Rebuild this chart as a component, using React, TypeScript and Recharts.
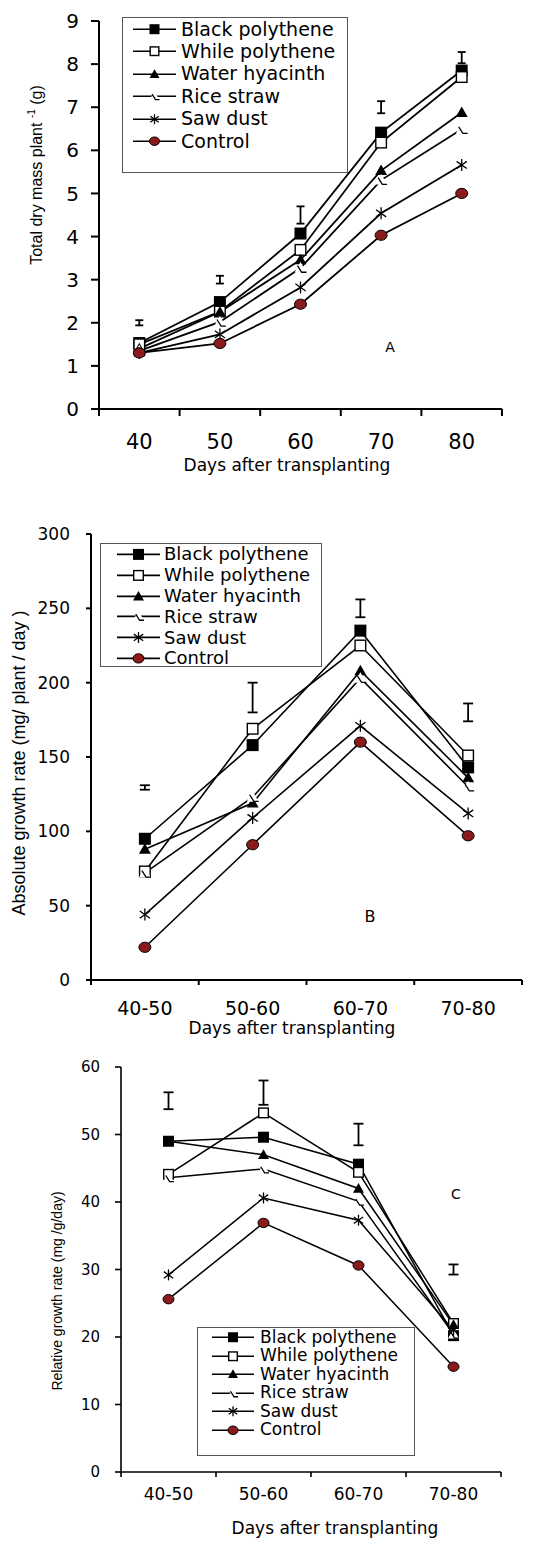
import React from "react";
import { LineChart, Line, XAxis, YAxis, ErrorBar, Legend } from "recharts";

// Series shared by all three panels
const SERIES_NAMES = [
  "Black polythene",
  "While polythene",
  "Water hyacinth",
  "Rice straw",
  "Saw dust",
  "Control",
];
const SERIES_MARKERS = ["filledSquare", "openSquare", "filledTriangle", "riceStraw", "star", "circle"];

// Panel A: total dry mass plant-1 (g)
const daysA = ["40", "50", "60", "70", "80"];
const blackA = [1.53, 2.48, 4.07, 6.41, 7.85];
const whiteA = [1.5, 2.26, 3.69, 6.18, 7.7];
const hyacinthA = [1.4, 2.25, 3.46, 5.53, 6.88];
const strawA = [1.35, 2.02, 3.27, 5.31, 6.49];
const sawA = [1.3, 1.73, 2.82, 4.54, 5.66];
const controlA = [1.3, 1.52, 2.43, 4.03, 5.0];
const lsdMidA = [2.0, 3.0, 4.5, 7.0, 8.15];
const lsdHalfA = [0.06, 0.09, 0.2, 0.14, 0.13];
const yTicksA = [0, 1, 2, 3, 4, 5, 6, 7, 8, 9];

// Panel B: absolute growth rate (mg/plant/day)
const periodsB = ["40-50", "50-60", "60-70", "70-80"];
const blackB = [95, 158, 235, 143];
const whiteB = [73, 169, 225, 151];
const hyacinthB = [88, 119, 208, 136];
const strawB = [72, 123, 203, 130];
const sawB = [44, 109, 171, 112];
const controlB = [22, 91, 160, 97];
const lsdMidB = [129.5, 190, 250, 180];
const lsdHalfB = [1.5, 10, 6, 6];
const yTicksB = [0, 50, 100, 150, 200, 250, 300];

// Panel C: relative growth rate (mg/g/day)
const periodsC = ["40-50", "50-60", "60-70", "70-80"];
const blackC = [49.0, 49.6, 45.6, 20.2];
const whiteC = [44.1, 53.2, 44.4, 22.0];
const hyacinthC = [49.0, 47.0, 42.0, 21.8];
const strawC = [43.6, 44.9, 40.1, 20.4];
const sawC = [29.2, 40.6, 37.3, 21.0];
const controlC = [25.6, 36.9, 30.6, 15.6];
const lsdMidC = [55, 56.2, 50, 30];
const lsdHalfC = [1.25, 1.8, 1.6, 0.75];
const yTicksC = [0, 10, 20, 30, 40, 50, 60];

const TEXT_FONT = "'DejaVu Sans', sans-serif";
const TITLE_FONT = "'Liberation Sans', Arial, sans-serif";
const CONTROL_RED = "#8b1a1a";

function buildRows(cats: string[], series: number[][], lsdMid: number[], lsdHalf: number[]) {
  return cats.map((c, i) => {
    const row: Record<string, number | string> = { pos: i + 0.5, label: c, lsd: lsdMid[i], lsdErr: lsdHalf[i] };
    series.forEach((s, k) => {
      row[`s${k}`] = s[i];
    });
    return row;
  });
}

function Marker({ kind, cx, cy, s }: { kind: string; cx: number; cy: number; s: number }) {
  const h = s / 2;
  switch (kind) {
    case "filledSquare":
      return <rect x={cx - h} y={cy - h} width={s} height={s} fill="#000" />;
    case "openSquare":
      return (
        <rect x={cx - h + 0.7} y={cy - h + 0.7} width={s - 1.4} height={s - 1.4} fill="#fff" stroke="#000" strokeWidth={1.4} />
      );
    case "filledTriangle":
      return <path d={`M${cx},${cy - h} L${cx + h},${cy + h * 0.75} L${cx - h},${cy + h * 0.75} Z`} fill="#000" />;
    case "riceStraw":
      return (
        <g>
          <path d={`M${cx},${cy - h} L${cx + h},${cy + h * 0.75} L${cx - h},${cy + h * 0.75} Z`} fill="#fff" />
          <path
            d={`M${cx - h * 0.5},${cy - h * 0.4} L${cx + h * 0.2},${cy + h * 0.7} L${cx + h},${cy + h * 0.7}`}
            fill="none"
            stroke="#000"
            strokeWidth={1.3}
          />
        </g>
      );
    case "star":
      return (
        <g stroke="#000" strokeWidth={1.3}>
          <line x1={cx} y1={cy - h} x2={cx} y2={cy + h} />
          <line x1={cx - h * 0.85} y1={cy - h * 0.6} x2={cx + h * 0.85} y2={cy + h * 0.6} />
          <line x1={cx - h * 0.85} y1={cy + h * 0.6} x2={cx + h * 0.85} y2={cy - h * 0.6} />
        </g>
      );
    default:
      return <ellipse cx={cx} cy={cy} rx={h} ry={h * 0.85} fill={CONTROL_RED} stroke="#000" strokeWidth={1} />;
  }
}

type LegendCfg = {
  left: number;
  top: number;
  width: number;
  height: number;
  rowH: number;
  fontSize: number;
  padLeft: number;
  symW: number;
  gap: number;
  markerSize: number;
};

function LegendBox({ cfg }: { cfg: LegendCfg }) {
  return (
    <div
      style={{
        width: cfg.width,
        height: cfg.height,
        boxSizing: "border-box",
        border: "1px solid #555",
        background: "#fff",
        paddingLeft: cfg.padLeft,
      }}
    >
      {SERIES_NAMES.map((name, k) => (
        <div key={name} style={{ display: "flex", alignItems: "center", height: cfg.rowH }}>
          <svg width={cfg.symW} height={cfg.rowH} style={{ display: "block", flexShrink: 0 }}>
            <line x1={0} y1={cfg.rowH / 2} x2={cfg.symW} y2={cfg.rowH / 2} stroke="#000" strokeWidth={1.6} />
            <Marker kind={SERIES_MARKERS[k]} cx={cfg.symW / 2} cy={cfg.rowH / 2} s={cfg.markerSize} />
          </svg>
          <span
            style={{
              marginLeft: cfg.gap,
              fontFamily: TEXT_FONT,
              fontSize: cfg.fontSize,
              color: "#000",
              whiteSpace: "nowrap",
              lineHeight: 1,
            }}
          >
            {name}
          </span>
        </div>
      ))}
    </div>
  );
}

type PanelCfg = {
  top: number;
  height: number;
  margin: { top: number; right: number; left: number; bottom: number };
  yAxisWidth: number;
  xAxisHeight: number;
  cats: string[];
  series: number[][];
  lsdMid: number[];
  lsdHalf: number[];
  yTicks: number[];
  yFont: number;
  yTickSize: number;
  yTickMargin: number;
  xFont: number;
  xLabelOffset: number;
  xTickLen: number;
  axisWidth: number;
  lineWidth: number;
  markerSize: number;
  capWidth: number;
  legend: LegendCfg;
};

function Panel({ cfg }: { cfg: PanelCfg }) {
  const rows = buildRows(cfg.cats, cfg.series, cfg.lsdMid, cfg.lsdHalf);
  const n = cfg.cats.length;
  const xTicks: number[] = [];
  for (let i = 0; i <= n * 2; i++) xTicks.push(i / 2);
  const yMax = cfg.yTicks[cfg.yTicks.length - 1];

  // Tick marks at band edges, category labels at band centres
  const bandTick = (props: any) => {
    const { x, y, payload } = props;
    const v = payload.value as number;
    if (Number.isInteger(v)) {
      return <line x1={x} y1={y} x2={x} y2={y + cfg.xTickLen} stroke="#000" strokeWidth={cfg.axisWidth} />;
    }
    return (
      <text
        x={x}
        y={y + cfg.xLabelOffset}
        textAnchor="middle"
        dominantBaseline="central"
        fontFamily={TEXT_FONT}
        fontSize={cfg.xFont}
        fill="#000"
      >
        {cfg.cats[Math.floor(v)]}
      </text>
    );
  };

  return (
    <div style={{ position: "absolute", left: 0, top: cfg.top }}>
      <LineChart width={552} height={cfg.height} data={rows} margin={cfg.margin}>
        <XAxis
          type="number"
          dataKey="pos"
          domain={[0, n]}
          ticks={xTicks}
          interval={0}
          tickSize={0}
          tickMargin={0}
          tickLine={false}
          axisLine={{ stroke: "#000", strokeWidth: cfg.axisWidth }}
          tick={bandTick}
          height={cfg.xAxisHeight}
        />
        <YAxis
          type="number"
          domain={[0, yMax]}
          ticks={cfg.yTicks}
          interval={0}
          width={cfg.yAxisWidth}
          tickSize={cfg.yTickSize}
          tickMargin={cfg.yTickMargin}
          axisLine={{ stroke: "#000", strokeWidth: cfg.axisWidth }}
          tickLine={{ stroke: "#000", strokeWidth: cfg.axisWidth }}
          tick={{ fill: "#000", fontSize: cfg.yFont, fontFamily: TEXT_FONT }}
        />
        <Legend
          layout="vertical"
          align="center"
          verticalAlign="middle"
          wrapperStyle={{ left: cfg.legend.left, top: cfg.legend.top, width: cfg.legend.width }}
          content={() => <LegendBox cfg={cfg.legend} />}
        />
        <Line
          dataKey="lsd"
          stroke="none"
          dot={false}
          activeDot={false}
          legendType="none"
          isAnimationActive={false}
        >
          <ErrorBar dataKey="lsdErr" direction="y" width={cfg.capWidth} stroke="#000" strokeWidth={1.8} />
        </Line>
        {SERIES_NAMES.map((name, k) => (
          <Line
            key={name}
            name={name}
            dataKey={`s${k}`}
            stroke="#000"
            strokeWidth={cfg.lineWidth}
            activeDot={false}
            isAnimationActive={false}
            dot={(p: any) => (
              <Marker key={`${k}-${p.index}`} kind={SERIES_MARKERS[k]} cx={p.cx} cy={p.cy} s={cfg.markerSize} />
            )}
          />
        ))}
      </LineChart>
    </div>
  );
}

const panelA: PanelCfg = {
  top: 0,
  height: 480,
  margin: { top: 21, right: 50, left: 0, bottom: 0 },
  yAxisWidth: 99,
  xAxisHeight: 71,
  cats: daysA,
  series: [blackA, whiteA, hyacinthA, strawA, sawA, controlA],
  lsdMid: lsdMidA,
  lsdHalf: lsdHalfA,
  yTicks: yTicksA,
  yFont: 20,
  yTickSize: 8,
  yTickMargin: 12,
  xFont: 21,
  xLabelOffset: 33,
  xTickLen: 7,
  axisWidth: 2,
  lineWidth: 1.8,
  markerSize: 12,
  capWidth: 4,
  legend: { left: 122, top: 17, width: 226, height: 156, rowH: 22.4, fontSize: 19, padLeft: 10, symW: 43, gap: 5, markerSize: 10 },
};

const panelB: PanelCfg = {
  top: 500,
  height: 540,
  margin: { top: 34, right: 30, left: 0, bottom: 0 },
  yAxisWidth: 91,
  xAxisHeight: 60,
  cats: periodsB,
  series: [blackB, whiteB, hyacinthB, strawB, sawB, controlB],
  lsdMid: lsdMidB,
  lsdHalf: lsdHalfB,
  yTicks: yTicksB,
  yFont: 17,
  yTickSize: 5,
  yTickMargin: 16,
  xFont: 19,
  xLabelOffset: 28,
  xTickLen: 5,
  axisWidth: 2,
  lineWidth: 1.6,
  markerSize: 12,
  capWidth: 5,
  legend: { left: 100, top: 43, width: 222, height: 124, rowH: 20.8, fontSize: 18, padLeft: 16, symW: 43, gap: 4, markerSize: 11 },
};

const panelC: PanelCfg = {
  top: 1040,
  height: 519,
  margin: { top: 27, right: 51, left: 0, bottom: 0 },
  yAxisWidth: 121,
  xAxisHeight: 87,
  cats: periodsC,
  series: [blackC, whiteC, hyacinthC, strawC, sawC, controlC],
  lsdMid: lsdMidC,
  lsdHalf: lsdHalfC,
  yTicks: yTicksC,
  yFont: 15,
  yTickSize: 6,
  yTickMargin: 15,
  xFont: 17,
  xLabelOffset: 22,
  xTickLen: 5,
  axisWidth: 1.6,
  lineWidth: 1.5,
  markerSize: 11,
  capWidth: 5,
  legend: { left: 197, top: 287, width: 218, height: 129, rowH: 18.5, fontSize: 17, padLeft: 14, symW: 42, gap: 6, markerSize: 10 },
};

function CenterText({ x, y, size, font, rotate, children }: any) {
  return (
    <div
      style={{
        position: "absolute",
        left: x,
        top: y,
        transform: `translate(-50%, -50%)${rotate ? " rotate(-90deg)" : ""}`,
        fontFamily: font,
        fontSize: size,
        lineHeight: 1,
        whiteSpace: "nowrap",
        color: "#000",
      }}
    >
      {children}
    </div>
  );
}

export default function App() {
  return (
    <div style={{ position: "absolute", left: 0, top: 0, width: 552, height: 1559, background: "#fff", overflow: "hidden" }}>
      <Panel cfg={panelA} />
      <Panel cfg={panelB} />
      <Panel cfg={panelC} />

      <CenterText x={287} y={465} size={17} font={TEXT_FONT}>Days after transplanting</CenterText>
      <CenterText x={292} y={1028} size={17} font={TEXT_FONT}>Days after transplanting</CenterText>
      <CenterText x={335} y={1528} size={17} font={TEXT_FONT}>Days after transplanting</CenterText>

      <CenterText x={36} y={175} size={16} font={TITLE_FONT} rotate>
        Total dry mass plant <sup style={{ fontSize: 10 }}>-1</sup> (g)
      </CenterText>
      <CenterText x={19} y={763} size={18} font={TITLE_FONT} rotate>
        Absolute growth rate (mg/ plant / day )
      </CenterText>
      <CenterText x={57} y={1291} size={14} font={TITLE_FONT} rotate>
        Relative growth rate (mg /g/day)
      </CenterText>

      <CenterText x={390} y={347} size={14} font={TEXT_FONT}>A</CenterText>
      <CenterText x={370} y={917} size={16} font={TEXT_FONT}>B</CenterText>
      <CenterText x={456} y={1194} size={14} font={TEXT_FONT}>C</CenterText>
    </div>
  );
}
